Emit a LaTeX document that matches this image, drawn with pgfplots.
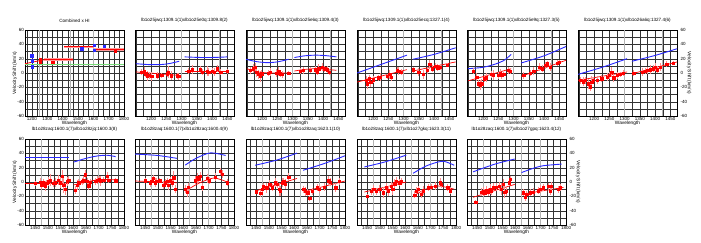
\documentclass[border=0pt]{standalone}
\usepackage{fontspec}
\setmainfont{Liberation Sans}
\usepackage{pgfplots}
\pgfplotsset{compat=1.18}
\definecolor{bluec}{RGB}{40,40,255}
\definecolor{greenc}{RGB}{120,220,120}
\newcommand{\pts}[1]{\addplot[only marks, mark=square*, mark size=1.15pt, red, error bars/.cd, y dir=both, y explicit, error bar style={red!45,line width=0.7pt}, error mark=none] table[x index=0,y index=1,y error index=2,row sep=\\] {#1};}
\newcommand{\bl}[1]{\addplot[bluec, line width=0.9pt, smooth] coordinates {#1};}
\newcommand{\rl}[1]{\addplot[red, line width=0.7pt, smooth] coordinates {#1};}
\newcommand{\gb}[1]{\addplot[black!30, line width=1.3pt] coordinates {(#1,-60) (#1,60)};}
\pgfplotsset{
 panel/.style={
  scale only axis, width=99pt, height=86pt,
  ymin=-60, ymax=60, ytick={-60,-40,...,60}, minor ytick={-50,-30,...,50},
  grid=both, major grid style={black!80, line width=0.3pt}, minor grid style={black!80, line width=0.3pt},
  tick style={draw=none},
  axis line style={black, line width=0.5pt},
  /pgf/number format/assume math mode=true,
  /pgf/number format/1000 sep={},
  tick label style={font=\fontsize{4.5}{5}\selectfont},
  label style={font=\fontsize{4.8}{5.5}\selectfont},
  title style={font=\fontsize{4.6}{5}\selectfont, inner sep=1pt},
  xlabel={Wavelength},
  xlabel style={inner sep=0pt, yshift=0.3pt},
  xticklabel style={inner sep=0.5pt, yshift=-0.6pt},
  yticklabel style={inner sep=1pt},
  anchor=north west,
 },
 mid/.style={yticklabels={}},
 lefty/.style={ylabel={Velocity Shift (km/s)}, ylabel style={inner sep=0pt, yshift=-1pt}},
 righty/.style={yticklabel pos=right, yticklabel style={xshift=2.5pt}, ylabel={Velocity Shift (km/s)}, ylabel style={rotate=180, inner sep=0pt, yshift=-1.5pt}},
 toppanel/.style={panel, xmin=1147, xmax=1472, xtick={1200,1250,...,1450}, minor xtick={1150,1175,...,1475}},
 botpanel/.style={panel, xmin=1410, xmax=1800, xtick={1450,1500,...,1800}, minor xtick={1425,1450,...,1800}},
}
\begin{document}
\begin{tikzpicture}
\useasboundingbox (0pt,0pt) rectangle (701pt,-242pt);
% ---------- Panel 1
\begin{axis}[panel, lefty, at={(25pt,-30pt)}, xmin=1155, xmax=1800, xtick={1200,1300,...,1800}, minor xtick={1166.67,1233.33,1266.67,1333.33,1366.67,1433.33,1466.67,1533.33,1566.67,1633.33,1666.67,1733.33,1766.67}, title={Combined x HI}]
\gb{1250}\gb{1450}\gb{1600}
\addplot[greenc, line width=0.8pt] coordinates {(1155,12.5) (1800,12.5)};
\addplot[red, line width=0.8pt] coordinates {(1155,13) (1290,19)};
\addplot[red!40, line width=2.4pt] coordinates {(1280,19) (1466,19)};
\addplot[red, line width=0.6pt] coordinates {(1280,19) (1466,19)};
\addplot[red!40, line width=2.4pt] coordinates {(1410,36.7) (1606,36.7)};
\addplot[red, line width=0.6pt] coordinates {(1410,36.7) (1606,36.7)};
\addplot[red!40, line width=2.4pt] coordinates {(1606,33) (1800,33)};
\addplot[red, line width=0.6pt] coordinates {(1606,33) (1800,33)};
\addplot[only marks, mark=square*, mark size=1.2pt, bluec] coordinates {(1198,24) (1200,17) (1200,9) (1525,34) (1606,39) (1606,32) (1670,37)};
\addplot[only marks, mark=square*, mark size=1.2pt, red] coordinates {(1253,19) (1253,16) (1336,15) (1741,31)};
\end{axis}
% ---------- Panel 2
\begin{axis}[toppanel, mid, at={(135pt,-30pt)}, title={lb1o25jwq:1309.1(1)xlb1o25e0q:1309.8(2)}]
\gb{1300}\gb{1425}
\bl{(1150,13) (1190,11.8) (1230,11.7) (1260,13.2) (1292,16.4)}
\bl{(1310,22.5) (1350,21.8) (1384,21.6) (1420,21.9) (1450,22.5)}
\rl{(1150,1.5) (1290,-3.3)}
\rl{(1310,2.3) (1450,2.3)}
\pts{1169 1.4 4\\1177 2.8 6\\1182 -1 5\\1186 -4.7 7\\1194 -3.3 5\\1202 -4.7 6\\1219 -3.8 5\\1235 -3.3 4\\1252 -1 5\\1257 1.4 8\\1265 -3.8 6\\1285 -3.8 4\\1290 -4.7 5\\}
\pts{1323 2.3 4\\1334 4.7 6\\1362 4.7 5\\1367 1.4 4\\1384 2.8 7\\1389 1.4 5\\1400 2.3 4\\1406 1.4 6\\1417 6 5\\1428 1.4 4\\1450 2.3 3\\}
\end{axis}
% ---------- Panel 3
\begin{axis}[toppanel, mid, at={(246pt,-30pt)}, title={lb1o25jwq:1309.1(1)xlb1o25e6q:1309.4(3)}]
\gb{1300}\gb{1425}
\bl{(1147,19.2) (1180,16) (1215,14.5) (1250,15.5) (1287,19.2)}
\bl{(1306,21.6) (1340,24) (1375,24.9) (1410,24.2) (1444,22.5)}
\rl{(1150,6) (1180,2) (1210,0.3) (1250,0) (1287,0)}
\rl{(1306,2.8) (1340,5) (1375,6) (1410,5) (1444,3.8)}
\pts{1160 3.8 5\\1171 6 6\\1177 8.4 5\\1182 1.4 7\\1188 -1.9 6\\1193 -4.7 8\\1199 -1 5\\1221 0 4\\1226 1.4 6\\1248 0 5\\1254 2.3 6\\1259 -1 4\\1265 -1.9 5\\1287 0 3\\}
\pts{1325 2.8 4\\1334 3.8 5\\1358 3.8 4\\1375 4.7 5\\1380 1.4 4\\1386 6 6\\1397 8.4 5\\1405 6 4\\1413 4.7 5\\1419 1.4 4\\}
\end{axis}
% ---------- Panel 4
\begin{axis}[toppanel, mid, at={(357pt,-30pt)}, title={lb1o25jwq:1309.1(1)xlb1o25ecq:1327.1(4)}]
\gb{1300}\gb{1425}
\bl{(1147,0) (1311,24.9)}
\bl{(1331,19.2) (1400,26) (1471,35.2)}
\rl{(1147,-12.7) (1311,4.7)}
\rl{(1331,2.8) (1471,15.5)}
\pts{1177 -10 6\\1181 -15 8\\1188 -8 5\\1192 -12.7 7\\1201 -9.4 5\\1217 -6.6 4\\1223 -5.6 5\\1245 -4.7 4\\1254 -1.9 6\\1259 -5.6 5\\1278 3.8 4\\1284 2.8 5\\1291 1.4 4\\}
\pts{1331 4.7 4\\1350 1.4 5\\1364 -1.9 6\\1377 3.8 5\\1386 12.2 6\\1394 6 5\\1405 9.4 4\\1412 7.5 5\\1421 8.4 4\\1443 10.8 3\\}
\end{axis}
% ---------- Panel 5
\begin{axis}[toppanel, mid, at={(467pt,-30pt)}, title={lb1o25jwq:1309.1(1)xlb1o25e9q:1327.3(5)}]
\gb{1300}\gb{1425}
\bl{(1150,6) (1200,8) (1240,12.5) (1270,18) (1292,26)}
\bl{(1325,14) (1400,24) (1472,37)}
\rl{(1150,-11) (1292,6)}
\rl{(1325,-4.7) (1472,17.8)}
\pts{1168 2.8 4\\1179 -5.6 6\\1184 -15 5\\1190 -17 7\\1195 -15 6\\1203 -8 5\\1210 -6.6 6\\1228 -1.9 5\\1234 -3.3 7\\1250 -3.3 5\\1256 0 6\\1261 -3.3 5\\1267 -1.9 4\\1283 3.8 5\\1289 2.8 4\\}
\pts{1333 -3.3 5\\1355 0 4\\1366 2.8 5\\1383 8.4 6\\1394 6 5\\1405 10.8 5\\1410 13 4\\1421 8.4 5\\1443 14 4\\1449 15.5 3\\}
\end{axis}
% ---------- Panel 6
\begin{axis}[toppanel, righty, at={(578pt,-30pt)}, title={lb1o25jwq:1309.1(1)xlb1o26a6q:1327.4(6)}]
\gb{1300}\gb{1425}
\bl{(1147,-1.9) (1230,8.5) (1308,20)}
\bl{(1324,16.4) (1400,24.5) (1473,34)}
\rl{(1147,-10.3) (1308,1.4)}
\rl{(1324,-1) (1473,15.5)}
\pts{1154 -10 5\\1165 -12 6\\1170 -10 5\\1181 -15 7\\1187 -19 6\\1192 -12.7 8\\1198 -10 5\\1209 -10 6\\1225 -8 5\\1242 -5.6 6\\1250 -3.3 5\\1258 1.4 7\\1264 -6.6 6\\1275 -3.3 5\\1286 -1.9 4\\1295 0 4\\}
\pts{1330 0 4\\1357 1.4 5\\1368 2.8 4\\1373 3.8 5\\1384 4.7 6\\1394 6 5\\1401 8.4 6\\1406 4.7 5\\1417 8.4 6\\1438 12.2 4\\1460 14 3\\}
\end{axis}
% ---------- Panel 7
\begin{axis}[botpanel, lefty, at={(25pt,-139pt)}, title={lb1o28zaq:1600.1(7)xlb1o28zjq:1600.3(8)}]
\gb{1475}\gb{1625}\gb{1700}
\bl{(1410,34) (1582,34)}
\bl{(1602,27.8) (1650,33) (1694,36.3) (1734,37.3) (1767,35.4)}
\rl{(1410,-2) (1582,-2)}
\rl{(1602,-4) (1650,0) (1707,3.5) (1767,3)}
\pts{1450 -2 3\\1470 0 5\\1476 -4 6\\1483 -1 5\\1490 -5 7\\1496 -2 5\\1503 1 6\\1509 3 8\\1523 -2 5\\1529 -1 6\\1542 3 7\\1549 -1 8\\1556 8 9\\1562 -4 12\\1569 -10 8\\1575 1 6\\1582 3 5\\}
\pts{1608 -11 6\\1615 -4 7\\1622 -1 5\\1635 1 5\\1641 3 6\\1648 10 7\\1654 1 5\\1661 -5 6\\1668 0 4\\1688 1 5\\1694 3 6\\1701 4 5\\1707 2 7\\1720 3 4\\1734 8 6\\1740 3 5\\1767 2 4\\}
\end{axis}
% ---------- Panel 8
\begin{axis}[botpanel, mid, at={(135pt,-139pt)}, title={lb1o28zaq:1600.1(7)xlb1o28zaq:1600.4(9)}]
\gb{1475}\gb{1625}\gb{1700}
\bl{(1410,39) (1500,37) (1575,33)}
\bl{(1608,23.6) (1650,33) (1707,40.6) (1767,37)}
\rl{(1410,1.4) (1575,-1)}
\rl{(1608,-12.8) (1660,-2) (1720,5.5) (1773,0)}
\pts{1450 2 3\\1470 -2 5\\1476 1 4\\1483 5 5\\1490 -1 6\\1496 1 5\\1507 2 4\\1523 -4 6\\1529 -1 5\\1536 1 4\\1542 -4 7\\1549 2 5\\1556 -1 6\\1562 6 9\\1569 -10 6\\}
\pts{1608 -10 6\\1615 -14 7\\1619 -7 5\\1648 2 6\\1654 6 7\\1661 4 5\\1668 8 6\\1674 -7 5\\1694 5 6\\1701 2 5\\1727 7 5\\1747 15 5\\1753 11 6\\1773 -1 5\\}
\end{axis}
% ---------- Panel 9
\begin{axis}[botpanel, mid, at={(246pt,-139pt)}, title={lb1o28zaq:1600.1(7)xlb1o28zaq:1623.1(10)}]
\gb{1475}\gb{1625}\gb{1700}
\bl{(1446,23.4) (1530,30.5) (1611,40.3)}
\bl{(1635,16.4) (1720,26) (1800,36.6)}
\rl{(1446,-12.7) (1611,5)}
\rl{(1635,-13.6) (1800,1.4)}
\pts{1450 -13.6 3\\1468 -16 5\\1475 -10 6\\1479 -6 5\\1492 -8 7\\1503 -3 6\\1512 -8 5\\1525 -1 6\\1532 -3 5\\1541 -10 9\\1545 -12 7\\1552 -1 6\\1558 1 5\\1565 -3 7\\1578 7 5\\}
\pts{1637 -10 5\\1644 -13 6\\1653 -15 5\\1661 -23 4\\1670 -13 5\\1690 -8 5\\1697 -10 6\\1717 -7 5\\1736 2 6\\1743 0 5\\1763 -8 6\\1776 1 5\\}
\end{axis}
% ---------- Panel 10
\begin{axis}[botpanel, mid, at={(357pt,-139pt)}, title={lb1o28zaq:1600.1(7)xlb1o27gkq:1623.3(11)}]
\gb{1475}\gb{1625}\gb{1700}
\bl{(1439,21) (1520,28) (1604,37.5)}
\bl{(1631,12.2) (1680,22) (1730,28) (1756,28.6) (1793,23.4)}
\rl{(1439,-14) (1604,0)}
\rl{(1631,-19.7) (1680,-10) (1730,-5.6) (1793,-10)}
\pts{1450 -19.7 3\\1466 -12.7 5\\1476 -10 6\\1486 -12.7 5\\1499 -10 6\\1512 -15 8\\1525 -8 6\\1532 -12 7\\1545 -5.6 6\\1551 -10 8\\1558 -2.3 7\\1565 1.4 6\\1578 -1 5\\1585 1.4 4\\}
\pts{1637 -18 5\\1644 -12.7 6\\1651 -10 5\\1664 -17 5\\1671 -12 6\\1690 -8 5\\1703 -7 4\\1717 -5.6 5\\1737 -1 6\\1743 -3 5\\1767 -8 5\\1776 -12 5\\}
\end{axis}
% ---------- Panel 11
\begin{axis}[botpanel, righty, at={(467pt,-139pt)}, title={lb1o28zaq:1600.1(7)xlb1o27gpq:1623.4(12)}]
\gb{1475}\gb{1625}\gb{1700}
\bl{(1434,14.2) (1520,25) (1598,32.1)}
\bl{(1625,13.2) (1670,19) (1710,22.7) (1783,25)}
\rl{(1434,-21.3) (1598,-3.3)}
\rl{(1625,-17) (1790,-7.6)}
\pts{1444 -28 3\\1467 -14 5\\1473 -13 6\\1480 -15 5\\1487 -12 6\\1493 -14 5\\1500 -10 7\\1506 -13 5\\1513 -8 6\\1526 -7 5\\1536 -6 6\\1546 -10 8\\1552 -3 7\\1559 -14 9\\1565 -13 7\\1576 -1 5\\1581 4 4\\}
\pts{1631 -15 5\\1638 -21 6\\1645 -17 5\\1658 -15 5\\1671 -14 6\\1691 -12 5\\1697 -10 6\\1710 -8 5\\1730 -6 5\\1737 -13 5\\1743 -6 6\\1770 -10 5\\1776 -8 5\\}
\end{axis}
\end{tikzpicture}
\end{document}
